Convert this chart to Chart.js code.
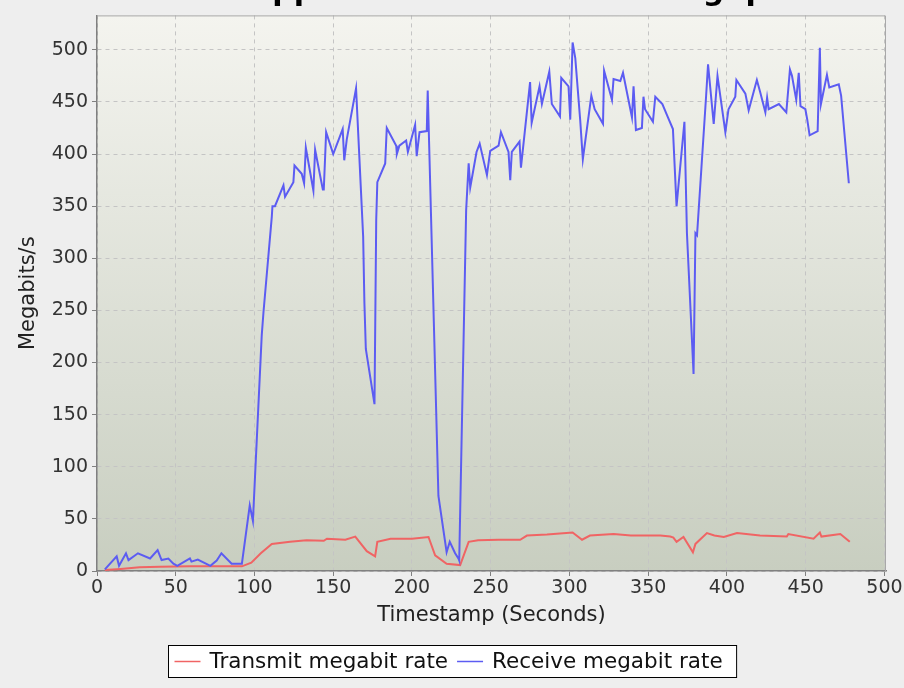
<!DOCTYPE html>
<html>
<head>
<meta charset="utf-8">
<script src="https://cdn.jsdelivr.net/npm/chart.js@4/dist/chart.umd.min.js"></script>
<style>
  html, body { margin: 0; padding: 0; background: #eeeeee; }
  #wrap { width: 904px; height: 688px; }
</style>
</head>
<body>
<div id="wrap"><canvas id="chart" width="904" height="688"></canvas></div>
<script>
// title is cut off at the top edge, only the descenders show
const chartTitle = 'Application Network Throughput';
const txLabel = 'Transmit megabit rate';
const rxLabel = 'Receive megabit rate';

const txTime = [5, 15, 27, 40, 59, 75, 92, 98, 104, 111, 122.6, 133, 144, 146, 157.7, 164, 171.3, 176.6, 178, 186.4,
  200, 210.5, 214.7, 222, 230.6, 236, 242, 255, 268.7, 273, 285.7, 302, 308, 313, 328, 339, 357.7, 364, 366, 368,
  372.4, 378.4, 380, 387.3, 392, 398, 406.4, 421, 438, 439, 455, 459, 460, 472, 478];
const txRate = [1, 2, 3.5, 4, 4.5, 4.5, 4.5, 8, 17, 26, 28, 29.5, 29, 31, 30, 33, 19, 14, 28, 31,
  31, 32.6, 15, 7, 5.7, 28, 29.5, 30, 30, 34, 35, 37, 30, 34, 35.5, 34, 34, 33, 32, 28,
  32.6, 18, 26, 36.4, 34, 32.6, 36.4, 34, 33, 35.5, 31, 37, 33, 35.5, 28];

const rxTime = [5, 12.5, 14, 18.4, 20, 26, 33.7, 38.5, 41, 45.3, 48.5, 51, 59, 60, 64, 72, 76, 79, 85.5, 92,
  97, 99, 104.6, 105.7, 111, 111.4, 113, 118.4, 119.4, 124.7, 125.4, 130, 131.5, 132.6, 137.4, 138.5, 143.4, 144, 145.5, 150,
  156, 157, 158.6, 164.5, 169, 169.8, 170.7, 176.2, 177.3, 178, 183, 184, 190, 190.4, 192, 196.3, 197.4, 202, 203, 204.8,
  209.4, 210, 216.8, 222, 224, 227.4, 229.5, 230, 234.4, 236, 237, 241, 243, 247.6, 249.7, 255, 256.5, 261.3, 262.4, 263.4,
  268.3, 269.2, 275, 276, 281, 282.5, 287.2, 288.8, 294, 294.8, 299.4, 300.5, 302, 303.7, 306.8, 308.5, 313.9, 316, 321.3, 322,
  327, 328, 332.3, 334, 339.7, 340.7, 342.2, 346, 347, 348, 353, 354.5, 359, 362, 365.7, 368, 373, 374.6, 378.8, 380,
  381, 386.7, 388, 391.6, 394, 399, 401, 405.3, 406, 411.7, 413.8, 419, 421, 424.4, 425.5, 426.5, 433, 437.7, 440, 441.3,
  444, 445.6, 446.7, 449.8, 451, 452.5, 457.6, 459, 459.7, 463.5, 465, 471, 472.5, 477.4];
const rxRate = [1.6, 14, 5, 17, 10.5, 17, 12, 20, 10.5, 12, 7, 5, 12, 9, 11, 5, 10, 17, 7, 7,
  63, 48, 226, 248, 340, 350, 350, 370, 359, 373, 389, 381, 372, 406, 365, 404, 366, 366, 421, 400,
  424, 394, 414, 463, 321, 257, 213, 160, 337, 373, 391, 425, 408, 400, 408, 413, 402, 428, 398, 421,
  422, 461, 72, 18, 28, 17, 12, 10, 346, 391, 368, 402, 410, 380, 403, 408, 421, 402, 375, 402,
  412, 387, 469, 430, 465, 448, 479, 448, 436, 473, 465, 433, 507, 492, 433, 395, 456, 443, 429, 480,
  452, 472, 470, 478, 435, 465, 423, 425, 455, 443, 431, 455, 448, 437, 424, 350, 431, 324, 189, 324,
  322, 454, 486, 429, 475, 421, 443, 455, 471, 458, 442, 471, 460, 440, 454, 443, 448, 440, 481, 475,
  452, 478, 446, 443, 433, 418, 422, 502, 448, 476, 464, 467, 456, 372];

const xTicks = [0, 50, 100, 150, 200, 250, 300, 350, 400, 450, 500];
const yTicks = [0, 50, 100, 150, 200, 250, 300, 350, 400, 450, 500];

const toPoints = (xs, ys) => xs.map((x, i) => ({ x: x, y: ys[i] }));
const FONT = '"DejaVu Sans", sans-serif';

const backdrop = {
  id: 'backdrop',
  beforeDraw(chart) {
    const { ctx, chartArea: a } = chart;
    ctx.save();
    ctx.fillStyle = '#eeeeee';
    ctx.fillRect(0, 0, chart.width, chart.height);
    const g = ctx.createLinearGradient(0, a.top, 0, a.bottom);
    g.addColorStop(0, '#f4f4ef');
    g.addColorStop(1, '#c8cec0');
    ctx.fillStyle = g;
    ctx.fillRect(a.left, a.top, a.right - a.left, a.bottom - a.top);
    ctx.restore();
  },
  afterDraw(chart) {
    const { ctx, chartArea: a } = chart;
    ctx.save();
    // plot outline on top / right
    ctx.strokeStyle = '#a8a8a8';
    ctx.lineWidth = 1;
    ctx.beginPath();
    ctx.moveTo(a.left, a.top + 0.5);
    ctx.lineTo(a.right - 0.5, a.top + 0.5);
    ctx.lineTo(a.right - 0.5, a.bottom);
    ctx.stroke();

    // clipped title
    ctx.fillStyle = '#000';
    ctx.font = 'bold 30px ' + FONT;
    ctx.textAlign = 'left';
    ctx.textBaseline = 'alphabetic';
    ctx.fillText(chartTitle, 249, 0);

    // boxed legend
    ctx.font = '21.5px ' + FONT;
    const items = chart.data.datasets.map(d => ({ label: d.label, color: d.borderColor }));
    const lineW = 26, gap = 9, padL = 6, padR = 14;
    let total = padL + padR;
    items.forEach((it, i) => {
      it.w = ctx.measureText(it.label).width;
      total += lineW + gap + it.w + (i < items.length - 1 ? gap : 0);
    });
    const bx = Math.round(452.5 - total / 2) + 0.5, by = 645.5, bh = 32;
    ctx.fillStyle = '#ffffff';
    ctx.fillRect(bx, by, total, bh);
    ctx.strokeStyle = '#000';
    ctx.lineWidth = 1;
    ctx.strokeRect(bx, by, total, bh);
    let x = bx + padL;
    const cy = by + bh / 2;
    items.forEach(it => {
      ctx.strokeStyle = it.color;
      ctx.lineWidth = 1.5;
      ctx.beginPath();
      ctx.moveTo(x, cy);
      ctx.lineTo(x + lineW, cy);
      ctx.stroke();
      x += lineW + gap;
      ctx.fillStyle = '#111';
      ctx.textBaseline = 'middle';
      ctx.fillText(it.label, x, cy + 1);
      x += it.w + gap;
    });
    ctx.restore();
  }
};

new Chart(document.getElementById('chart'), {
  type: 'line',
  data: {
    datasets: [
      {
        label: txLabel,
        data: toPoints(txTime, txRate),
        borderColor: '#f06464',
        borderWidth: 2,
        pointRadius: 0,
        tension: 0,
        order: 1
      },
      {
        label: rxLabel,
        data: toPoints(rxTime, rxRate),
        borderColor: '#5c5cf2',
        borderWidth: 2,
        pointRadius: 0,
        tension: 0,
        order: 0
      }
    ]
  },
  options: {
    responsive: false,
    animation: false,
    devicePixelRatio: 1,
    layout: { padding: { top: 10, right: 18, bottom: 53, left: 0 } },
    plugins: {
      legend: { display: false },
      tooltip: { enabled: false },
      title: { display: false }
    },
    scales: {
      x: {
        type: 'linear',
        min: 0,
        max: 501,
        afterBuildTicks: ax => { ax.ticks = xTicks.map(v => ({ value: v })); },
        afterFit: ax => { ax.height = 64; },
        grid: { color: '#c4c4c4', lineWidth: 1, tickLength: 5, tickColor: '#808080', tickWidth: 1 },
        border: { display: true, color: '#808080', width: 1.5, dash: [4, 4] },
        ticks: { color: '#333', font: { family: FONT, size: 19 }, padding: 1, maxRotation: 0, autoSkip: false },
        title: {
          display: true, text: 'Timestamp (Seconds)', color: '#222',
          font: { family: FONT, size: 21 }, padding: { top: 0, bottom: 7 }
        }
      },
      y: {
        type: 'linear',
        min: 0,
        max: 533,
        afterBuildTicks: ax => { ax.ticks = yTicks.map(v => ({ value: v })); },
        afterFit: ax => { ax.width = 97; },
        grid: { color: '#c4c4c4', lineWidth: 1, tickLength: 5, tickColor: '#808080', tickWidth: 1 },
        border: { display: true, color: '#808080', width: 1.5, dash: [4, 4] },
        ticks: { color: '#333', font: { family: FONT, size: 19 }, padding: 4 },
        title: {
          display: true, text: 'Megabits/s', color: '#222',
          font: { family: FONT, size: 21 }, padding: { top: 16, bottom: 0 }
        }
      }
    }
  },
  plugins: [backdrop]
});
</script>
</body>
</html>
